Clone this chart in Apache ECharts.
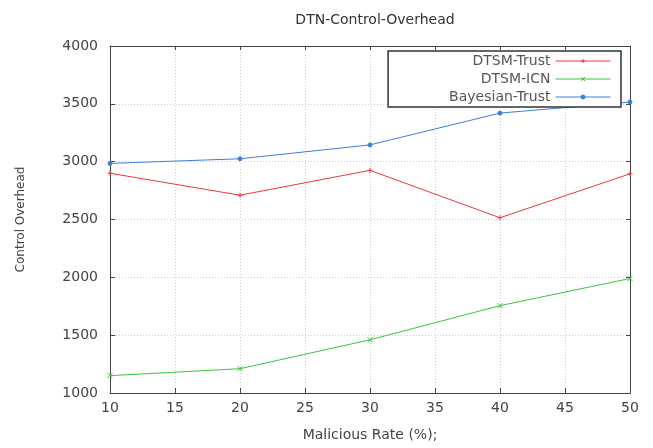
<!DOCTYPE html>
<html><head><meta charset="utf-8">
<script src="https://cdn.jsdelivr.net/npm/echarts@6/dist/echarts.min.js"></script>
<style>html,body{margin:0;padding:0;background:#fff}#c{width:653px;height:448px}</style>
</head><body><div id="c"></div>
<script>
const xValues = [10, 20, 30, 40, 50];
const dtsmTrust = [2900, 2710, 2925, 2515, 2895];
const dtsmIcn = [1150, 1210, 1460, 1755, 1990];
const bayesianTrust = [2985, 3025, 3145, 3420, 3515];
const seriesNames = ['DTSM-Trust', 'DTSM-ICN', 'Bayesian-Trust'];
const colors = ['#e8393b', '#3cc43c', '#3a7fd6'];
const symbols = ['path://M0,5L10,5M5,0L5,10', 'path://M0,0L10,10M10,0L0,10', 'circle'];
const font = 'DejaVu Sans';

const chart = echarts.init(document.getElementById('c'));
const mk = (name, vals, i) => ({
  name, type: 'line', data: xValues.map((x, j) => [x, vals[j]]),
  symbol: symbols[i], symbolSize: i === 2 ? 4 : 5, showSymbol: true,
  lineStyle: { color: colors[i], width: 1 },
  itemStyle: { color: colors[i], borderColor: colors[i], borderWidth: 1 },
  z: 2
});
const frameAxis = {
  show: true, axisLine: { show: true, lineStyle: { color: '#444' } },
  axisTick: { inside: true, length: 4, lineStyle: { color: '#444' } },
  axisLabel: { show: false }, splitLine: { show: false }
};
chart.setOption({
  animation: false,
  title: { text: 'DTN-Control-Overhead', left: 370, top: 8, textAlign: 'center',
    textStyle: { fontFamily: font, fontSize: 14, fontWeight: 'normal', color: '#333' } },
  grid: { left: 110, right: 23, top: 46, bottom: 55 },
  legend: {
    orient: 'vertical', right: 32, top: 51, align: 'right',
    itemWidth: 55, itemHeight: 5, itemGap: 4,
    backgroundColor: '#fff', borderColor: '#333', borderWidth: 1.5, borderRadius: 0,
    padding: [3, 10, 3, 61],
    lineStyle: { width: 1 },
    itemStyle: { borderWidth: 1 },
    textStyle: { fontFamily: font, fontSize: 14, color: '#555' },
    data: seriesNames, z: 10
  },
  xAxis: [{
    type: 'value', min: 10, max: 50, interval: 5,
    name: 'Malicious Rate (%);', nameLocation: 'middle', nameGap: 35,
    nameTextStyle: { fontFamily: font, fontSize: 14, color: '#444' },
    axisLine: { show: true, lineStyle: { color: '#444' } },
    axisTick: { inside: true, length: 5, lineStyle: { color: '#444' } },
    axisLabel: { fontFamily: font, fontSize: 14, color: '#444', margin: 8 },
    splitLine: { show: true, lineStyle: { color: '#ccc', type: [1, 2] } }
  }, Object.assign({ type: 'value', min: 10, max: 50, interval: 5, position: 'top' }, frameAxis)],
  yAxis: [{
    type: 'value', min: 1000, max: 4000, interval: 500,
    name: 'Control Overhead', nameLocation: 'middle', nameGap: 83,
    nameTextStyle: { fontFamily: font, fontSize: 12, color: '#444' },
    axisLine: { show: true, lineStyle: { color: '#444' } },
    axisTick: { inside: true, length: 5, lineStyle: { color: '#444' } },
    axisLabel: { fontFamily: font, fontSize: 14, color: '#444', margin: 12, formatter: v => String(v) },
    splitLine: { show: true, lineStyle: { color: '#ccc', type: [1, 2] } }
  }, Object.assign({ type: 'value', min: 1000, max: 4000, interval: 500, position: 'right' }, frameAxis)],
  series: [mk(seriesNames[0], dtsmTrust, 0), mk(seriesNames[1], dtsmIcn, 1), mk(seriesNames[2], bayesianTrust, 2)]
});
</script></body></html>
